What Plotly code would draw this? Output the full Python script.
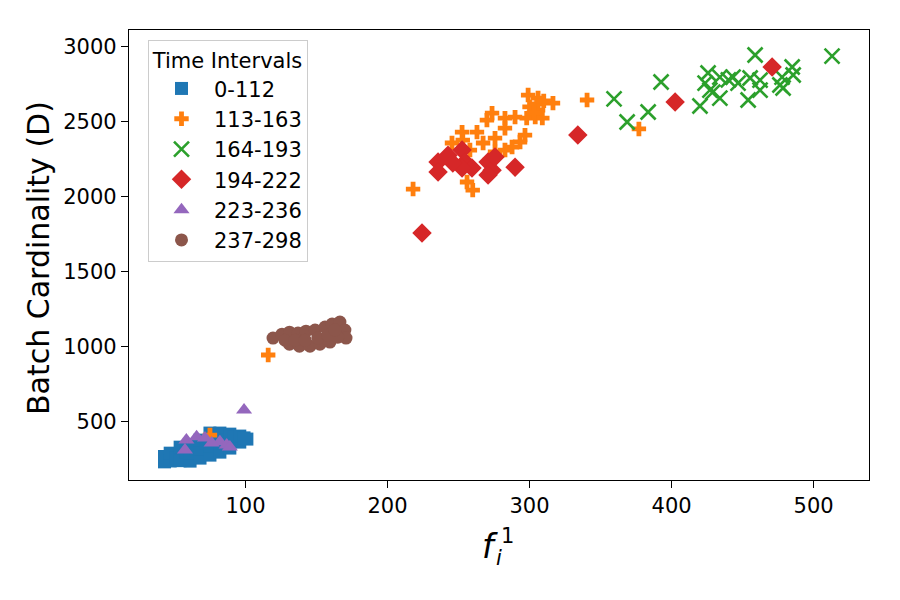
import plotly.graph_objects as go

# ---- data ----
series_names = ["0-112", "113-163", "164-193", "194-222", "223-236", "237-298"]

blue_x = [43, 43, 47, 47, 51, 54, 54, 58, 61, 61, 61, 65, 68, 68, 68, 72, 75, 75, 75, 79, 82, 82, 82, 86, 89, 89, 92, 96, 96, 101, 99]
blue_y = [232, 268, 238, 290, 255, 240, 330, 300, 237, 290, 344, 320, 257, 317, 377, 360, 277, 340, 424, 400, 297, 360, 424, 380, 324, 417, 400, 364, 404, 384, 392]

orange_x = [116, 75, 218, 299, 306, 316.5, 306, 304, 309, 273.6, 270, 282.7, 289.8, 298, 282.7, 263, 252.5, 253, 275.7, 296.8,
            293.3, 287.7, 282.7, 267.3, 245.4, 258, 275.7, 272, 256, 260, 340.5, 377, 300, 305, 310, 303]
orange_y = [945, 411, 2052, 2679, 2659, 2625, 2579, 2532, 2525, 2558, 2512, 2525, 2532, 2525, 2458, 2432, 2432, 2379, 2392, 2412,
            2366, 2332, 2312, 2359, 2359, 2312, 2299, 2245, 2099, 2045, 2646, 2453, 2600, 2620, 2640, 2560]

green_x = [359.5, 368.7, 383.5, 392.6, 420, 425.7, 423.6, 434, 429, 434, 443.3, 446.8, 453.9, 455.3, 458.8, 462.3, 462.3,
           476.3, 478.5, 484.9, 485.6, 477.8, 513, 427, 440]
green_y = [2653, 2499, 2566, 2766, 2606, 2826, 2759, 2799, 2699, 2659, 2799, 2759, 2646, 2793, 2946, 2779, 2712,
           2746, 2726, 2866, 2813, 2799, 2939, 2712, 2780]

red_x = [334, 402.5, 470.8, 224.3, 289.8, 235.6, 235.6, 242.6, 252.5, 254.6, 259.5, 252.5, 270.8, 273.6, 270.8, 275.7, 246]
red_y = [2412, 2632, 2866, 1758, 2198, 2232, 2165, 2278, 2312, 2232, 2192, 2192, 2232, 2178, 2145, 2265, 2225]

purple_x = [99, 58.4, 57.4, 65.6, 71.5, 82, 86.8, 76.2, 89]
purple_y = [578, 378, 311, 400, 391, 366, 344, 358, 331]

brown_x = [119.4, 125.7, 131, 137, 142.6, 149, 156, 161, 166.5, 170, 170.8, 131, 138, 145.4, 152.4, 159.5, 165,
           127.8, 135, 142, 151, 158, 163]
brown_y = [1058, 1084, 1097, 1091, 1104, 1111, 1131, 1151, 1165, 1111, 1058, 1017, 1004, 1004, 1017, 1031, 1064,
           1044, 1044, 1044, 1058, 1077, 1111]

x_ticks = [100, 200, 300, 400, 500]
y_ticks = [500, 1000, 1500, 2000, 2500, 3000]

FONT = "DejaVu Sans"

fig = go.Figure()

def add(xs, ys, name, color, symbol, size, line_width=0):
    marker = dict(color=color, symbol=symbol, size=size, line=dict(width=line_width, color=color))
    fig.add_trace(go.Scatter(x=xs, y=ys, mode="markers", name=name, legendgroup=name,
                             marker=marker))

add(blue_x, blue_y, series_names[0], "#1f77b4", "square", 13)
add(orange_x, orange_y, series_names[1], "#ff7f0e", "cross", 12)
add(green_x, green_y, series_names[2], "#2ca02c", "x-thin", 15, 2.6)
add(red_x, red_y, series_names[3], "#d62728", "diamond", 15)
add(purple_x, purple_y, series_names[4], "#9467bd", "triangle-up", 14)
add(brown_x, brown_y, series_names[5], "#8c564b", "circle", 13)

axis_common = dict(showgrid=False, zeroline=False, showline=True, mirror=True,
                   linecolor="black", linewidth=1.3, ticks="outside", ticklen=7,
                   tickwidth=1.3, tickcolor="black",
                   tickfont=dict(family=FONT, size=21, color="black"))

fig.update_xaxes(range=[18, 539], tickvals=x_ticks, **axis_common)
fig.update_yaxes(range=[111, 3113], tickvals=y_ticks, **axis_common)

fig.update_layout(
    width=900, height=600,
    margin=dict(l=129, r=31, t=30, b=120),
    plot_bgcolor="white", paper_bgcolor="white",
    font=dict(family=FONT, color="black"),
    legend=dict(x=(148 - 129) / 740, y=(480 - 40) / 450, xanchor="left", yanchor="top",
                bordercolor="#cccccc", borderwidth=1, bgcolor="rgba(255,255,255,0.9)",
                font=dict(family=FONT, size=21, color="black"),
                title=dict(text="Time Intervals", side="top center",
                           font=dict(family=FONT, size=21, color="black")),
                tracegroupgap=0, itemwidth=55),
    annotations=[
        dict(text="Batch Cardinality (D)", textangle=-90, xref="paper", yref="paper",
             x=(38 - 129) / 740, y=(480 - 258) / 450, xanchor="center", yanchor="middle",
             showarrow=False, font=dict(family=FONT, size=30, color="black")),
        dict(text="<i>f</i>", xref="paper", yref="paper",
             x=(490 - 129) / 740, y=(480 - 546) / 450, xanchor="center", yanchor="middle",
             showarrow=False, font=dict(family=FONT, size=33, color="black")),
        dict(text="1", xref="paper", yref="paper",
             x=(507 - 129) / 740, y=(480 - 536) / 450, xanchor="center", yanchor="middle",
             showarrow=False, font=dict(family=FONT, size=21, color="black")),
        dict(text="<i>i</i>", xref="paper", yref="paper",
             x=(499 - 129) / 740, y=(480 - 558) / 450, xanchor="center", yanchor="middle",
             showarrow=False, font=dict(family=FONT, size=21, color="black")),
    ],
)

fig.write_html("out.html")
